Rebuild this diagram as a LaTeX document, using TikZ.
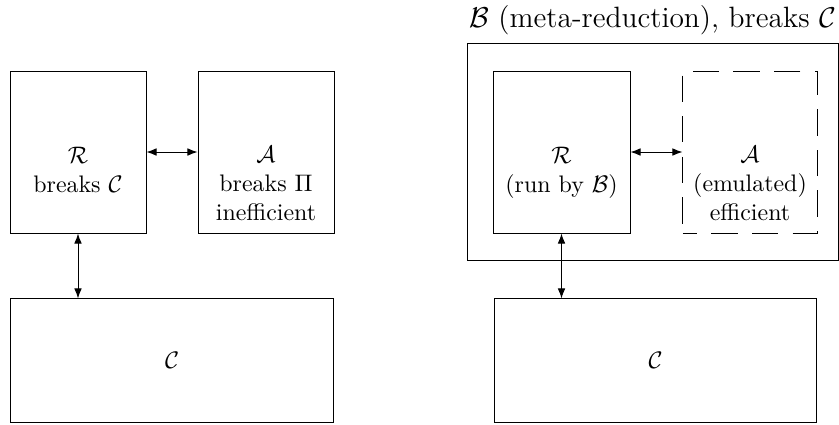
\documentclass[tikz,border=0pt]{standalone}
\usetikzlibrary{arrows.meta}
\begin{document}
\begin{tikzpicture}[x=0.4184pt,y=-0.4184pt,
  boxr/.style={draw,line width=0.4pt,inner sep=0pt},
  emu/.style={draw,line width=0.4pt,inner sep=0pt,dash pattern=on 11pt off 6pt,dash phase=5.1pt},
  lbl/.style={align=center,anchor=base,inner sep=0pt},
  link/.style={{Latex[length=4.2pt,width=3.2pt]}-{Latex[length=4.2pt,width=3.2pt]},line width=0.4pt}]
\useasboundingbox (0,0) rectangle (839,424);

% ---- left: the reduction R interacting with an adversary A and challenger C
\node[boxr,minimum width=56.9pt,minimum height=67.8pt] (R1) at (78,152) {};
\node[boxr,minimum width=56.9pt,minimum height=67.8pt] (A1) at (266,152) {};
\node[boxr,minimum width=135.1pt,minimum height=51.5pt] (C1) at (172,360.5) {};
% multi-line labels: the base anchor sits on the last line
\node[lbl] (R1t) at (78,192) {$\mathcal{R}$\\breaks $\mathcal{C}$};
\node[lbl] (A1t) at (266,220) {$\mathcal{A}$\\breaks $\Pi$\\inefficient};
\node[anchor=base,inner sep=0pt] (C1t) at (172,368) {$\mathcal{C}$};
\draw[link] (R1.east) -- (A1.west);
\draw[link] (R1.south) -- (C1.north -| R1.south);

% ---- right: meta-reduction B running R and emulating A
\node[boxr,minimum width=155.2pt,minimum height=90.4pt] (B) at (652.6,152) {};
\node[anchor=base,inner sep=0pt] (Bt) at (652.6,27) {\fontsize{12.3}{15}\selectfont $\mathcal{B}$ (meta-reduction), breaks $\mathcal{C}$};
\node[boxr,minimum width=57.3pt,minimum height=67.8pt] (R2) at (561.5,152) {};
\node[emu,minimum width=56.1pt,minimum height=67.8pt] (A2) at (750,152) {};
\node[boxr,minimum width=135.1pt,minimum height=51.5pt] (C2) at (655.5,360.5) {};
\node[lbl] (R2t) at (561.5,192) {$\mathcal{R}$\\(run by $\mathcal{B}$)};
\node[lbl] (A2t) at (750,220) {$\mathcal{A}$\\(emulated)\\efficient};
\node[anchor=base,inner sep=0pt] (C2t) at (655.5,368) {$\mathcal{C}$};
\draw[link] (R2.east) -- (A2.west);
\draw[link] (R2.south) -- (C2.north -| R2.south);
\end{tikzpicture}
\end{document}
